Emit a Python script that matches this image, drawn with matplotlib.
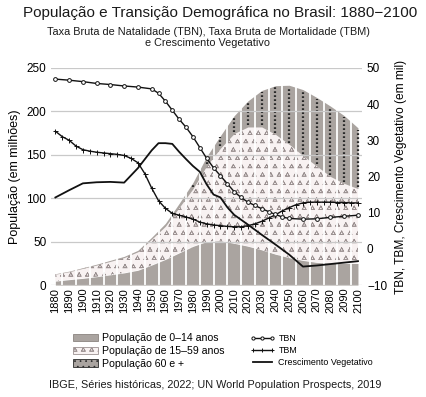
import warnings
import numpy as np
import matplotlib
matplotlib.use('Agg')
import matplotlib.pyplot as plt
from matplotlib import hatch as mhatch
from matplotlib.path import Path
from matplotlib.patches import Patch
from matplotlib.lines import Line2D

warnings.filterwarnings('ignore')
plt.rcParams['font.family'] = ['Liberation Sans', 'DejaVu Sans']
plt.rcParams['hatch.linewidth'] = 0.5


# small open triangles for the 15-59 layer
class Triangulos(mhatch.Shapes):
    filled = False
    size = 0.28

    def __init__(self, hatch, density):
        self.num_rows = hatch.count('^') * density
        tri = Path.unit_regular_polygon(3)
        self.shape_vertices = tri.vertices
        self.shape_codes = np.full(len(tri.vertices), Path.LINETO, dtype=Path.code_type)
        self.shape_codes[0] = Path.MOVETO
        super().__init__(hatch, density)


mhatch._hatch_types.append(Triangulos)

# ---- dados ----
anos = np.arange(1880, 2101, 10)
pop_0_14 = np.array([4.5, 6.2, 7.7, 9.6, 11.8, 14.0, 17.0, 23.0, 29.5, 37.0, 44.5, 50.0,
                     51.0, 48.0, 44.7, 40.5, 35.5, 31.5, 28.3, 26.1, 25.2, 25.0, 24.8])
pop_15_59 = np.array([8.0, 9.1, 11.5, 13.4, 15.5, 17.6, 21.3, 29.8, 38.2, 52.3, 66.3, 87.3,
                      106.5, 126.5, 137.3, 141.5, 138.0, 130.5, 120.7, 110.9, 99.8, 92.0, 86.2])
pop_60 = np.array([0.5, 0.7, 0.8, 1.0, 1.2, 1.4, 1.7, 2.2, 3.3, 4.7, 7.2, 10.7,
                   14.5, 20.5, 30.0, 42.0, 56.0, 68.0, 76.0, 79.0, 81.0, 78.0, 70.0])

tbn_anos = [1880, 1890, 1900, 1910, 1920, 1930, 1940, 1950, 1955, 1960, 1965, 1970, 1975,
            1980, 1985, 1990, 1995, 2000, 2005, 2010, 2015, 2020, 2025, 2030, 2035, 2040,
            2045, 2050, 2060, 2070, 2080, 2090, 2100]
tbn = [46.9, 46.6, 46.2, 45.7, 45.4, 45.0, 44.7, 44.2, 43.0, 40.8, 38.3, 35.8, 33.6,
       31.0, 28.0, 25.0, 22.4, 20.2, 18.0, 15.8, 14.2, 12.9, 12.0, 11.1, 10.3, 9.5,
       8.8, 8.4, 8.2, 8.3, 8.7, 9.0, 9.3]

tbm_anos = list(range(1880, 2101, 5))
tbm = [32.5, 31.0, 30.0, 28.4, 27.4, 27.0, 26.7, 26.5, 26.3, 26.1, 25.8, 25.0, 23.8,
       20.8, 16.8, 13.3, 11.2, 9.8, 9.3, 8.8, 8.2, 7.4, 6.9, 6.6, 6.4, 6.2, 6.1, 6.1,
       6.4, 6.9, 7.6, 8.5, 9.4, 10.5, 11.4, 12.2, 12.7, 12.9, 12.9, 12.9, 12.9, 12.8,
       12.8, 12.7, 12.7]

cv_anos = [1880, 1890, 1900, 1910, 1920, 1930, 1940, 1950, 1955, 1960, 1965, 1970, 1975,
           1980, 1985, 1990, 1995, 2000, 2005, 2010, 2020, 2030, 2040, 2050, 2060, 2070,
           2080, 2090, 2100]
cv = [14.2, 16.2, 18.1, 18.4, 18.5, 18.3, 22.3, 27.2, 29.2, 29.2, 29.0, 26.8, 24.8,
      22.9, 21.3, 17.8, 15.0, 14.2, 11.5, 9.4, 6.7, 3.9, 1.2, -1.6, -4.9, -4.6,
      -4.2, -3.8, -3.4]

cinza = '#aaa4a0'
rosa = '#f8f2f2'
tri_cor = '#9c9292'

fig = plt.figure(figsize=(4.27, 3.97), dpi=100)
ax = fig.add_axes([0.120, 0.282, 0.728, 0.547])

base1 = pop_0_14
base2 = pop_0_14 + pop_15_59
total = base2 + pop_60

ax.fill_between(anos, 0, base1, color=cinza, lw=0, zorder=1)
ax.fill_between(anos, base1, base2, facecolor=rosa, edgecolor=tri_cor, hatch='^^', lw=0, zorder=1)
ax.fill_between(anos, base2, total, color=cinza, lw=0, zorder=1)

# pontos da populacao 60+ em colunas
grandes = pop_60 > 6
ax.vlines(anos[grandes], base2[grandes] + 2, total[grandes] - 2, colors='#2a2a2a',
          linestyles=(0, (0.8, 1.0)), lw=1.6, zorder=1.2)

# separacao das barras
ax.vlines(anos[:-1] + 5, 0, 250, colors='white', lw=1.3, zorder=1.5)

ax.set_xlim(1877, 2103)
ax.set_ylim(0, 250)
ax.set_yticks(range(0, 251, 50))
ax.set_xticks(anos)
ax.set_xticklabels([str(a) for a in anos], rotation=90, fontsize=8)
ax.tick_params(axis='both', length=0, labelsize=8.5)
ax.tick_params(axis='x', labelsize=8, pad=2)
ax.set_axisbelow(False)
ax.yaxis.grid(True, color='#c9c9c9', lw=0.9)
ax.set_ylabel('População (em milhões)', fontsize=9, labelpad=4)
for s in ax.spines.values():
    s.set_visible(False)

ax2 = ax.twinx()
ax2.set_ylim(-10, 50)
ax2.set_yticks(range(-10, 51, 10))
ax2.tick_params(axis='y', length=0, labelsize=8.5)
for s in ax2.spines.values():
    s.set_visible(False)

ax2.plot(cv_anos, cv, color='#111111', lw=1.3, zorder=3)
ax2.plot(tbm_anos, tbm, color='#111111', lw=1.0, marker='+', ms=3.6, mew=0.7, zorder=4)
ax2.plot(tbn_anos, tbn, color='#111111', lw=1.0, marker='o', ms=2.7, mfc='white',
         mec='#111111', mew=0.7, zorder=5)
ax2.set_ylabel('TBN, TBM, Crescimento Vegetativo (em mil)', fontsize=8.6, labelpad=6)

fig.text(0.515, 0.967, 'População e Transição Demográfica no Brasil: 1880\u22122100',
         ha='center', va='center', fontsize=11, color='#1a1a1a')
fig.text(0.487, 0.906, 'Taxa Bruta de Natalidade (TBN), Taxa Bruta de Mortalidade (TBM)\n'
         'e Crescimento Vegetativo', ha='center', va='center', fontsize=7.8,
         linespacing=1.1, color='#1a1a1a')
fig.text(0.503, 0.030, 'IBGE, Séries históricas, 2022; UN World Population Prospects, 2019',
         ha='center', va='center', fontsize=7.8, color='#1a1a1a')

handles = [
    Patch(facecolor=cinza, edgecolor='#8a8480', lw=0.6, label='População de 0\u201214 anos'),
    Patch(facecolor=rosa, edgecolor=tri_cor, lw=0.6, hatch='^^', label='População de 15\u201259 anos'),
    Patch(facecolor=cinza, edgecolor='#2a2a2a', lw=0.6, hatch='...', label='População 60 e +'),
    Line2D([], [], color='#111111', lw=1.0, marker='o', ms=2.3, mfc='white', mew=0.7, label='TBN'),
    Line2D([], [], color='#111111', lw=1.0, marker='+', ms=3.2, mew=0.7, label='TBM'),
    Line2D([], [], color='#111111', lw=1.3, label='Crescimento Vegetativo'),
]
leg = fig.legend(handles=handles, ncol=2, loc='center', bbox_to_anchor=(0.522, 0.116),
                 frameon=False, fontsize=7.6, handlelength=2.4, handletextpad=0.35,
                 columnspacing=2.4, labelspacing=0.25, numpoints=3)
for t in leg.get_texts()[3:]:
    t.set_fontsize(6.4)

fig.savefig('out.png', dpi=100)
